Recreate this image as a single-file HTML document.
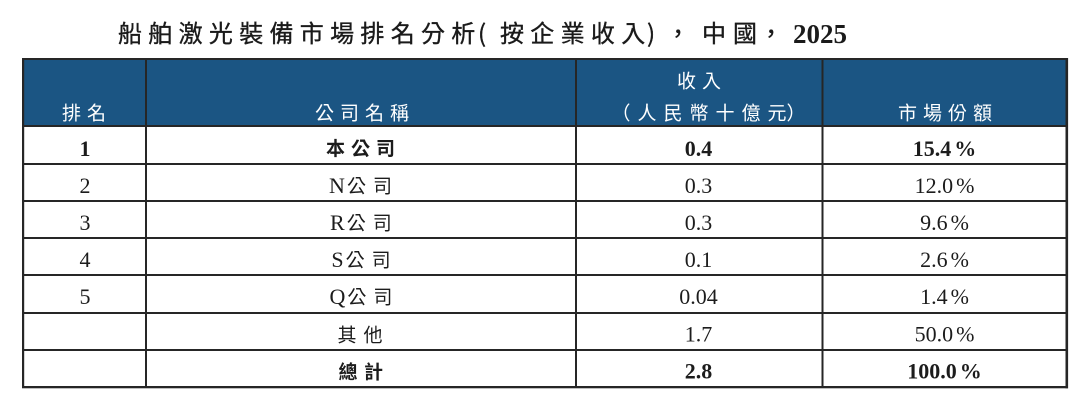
<!DOCTYPE html>
<html>
<head>
<meta charset="utf-8">
<style>
  html, body { margin: 0; padding: 0; background: #ffffff; }
  svg { display: block; }
  .cjk { font-family: "Noto Sans CJK TC", "Noto Sans CJK SC", sans-serif; }
  .lat { font-family: "Liberation Serif", serif; }
  .hd { font-family: "Noto Sans CJK TC", "Noto Sans CJK SC", sans-serif; font-size: 19px; fill: #ffffff; }
  .b { font-weight: bold; }
  .num { font-family: "Liberation Serif", serif; font-size: 22px; fill: #1c1c1c; }
  .ct { font-family: "Noto Sans CJK TC", "Noto Sans CJK SC", sans-serif; font-size: 19px; fill: #1c1c1c; }
  .tt { font-family: "Noto Sans CJK TC", "Noto Sans CJK SC", sans-serif; font-size: 24px; fill: #1a1a1a; stroke: #1a1a1a; stroke-width: 0.35px; }
</style>
</head>
<body>
<svg width="1080" height="411" viewBox="0 0 1080 411" xmlns="http://www.w3.org/2000/svg">
  <rect x="0" y="0" width="1080" height="411" fill="#ffffff"/>

  <!-- Title -->
  <text class="tt" y="42" x="118 148.3 178.6 208.9 239.2 269.5 299.8 330.1 360.4 390.7 421 451.3">船舶激光裝備市場排名分析</text>
  <text class="tt" y="42" x="478">(</text>
  <text class="tt" y="42" x="500 530.3 560.6 590.9 621.2">按企業收入</text>
  <text class="tt" y="42" x="647">)</text>
  <text class="tt" y="42" x="666">，</text>
  <text class="tt" y="42" x="702 733">中國</text>
  <text class="tt" y="42" x="759">，</text>
  <text class="lat b" font-size="27" fill="#1a1a1a" y="43" x="793">2025</text>

  <!-- Header background -->
  <rect x="24" y="60" width="1042" height="65" fill="#1b5583"/>

  <!-- Header text -->
  <text class="hd" y="119.5" x="62 87">排名</text>
  <text class="hd" y="119.5" x="315 340 365 390">公司名稱</text>
  <text class="hd" y="87.5" x="677 702">收入</text>
  <text class="hd" y="119.5" x="611.5 637.5 663.5 689.5 715.5 741.5 767.5">（人民幣十億元）</text>
  <text class="hd" y="119.5" x="898 923 948 973">市場份額</text>

  <!-- Grid lines -->
  <g fill="#262626">
    <rect x="22" y="58" width="1046" height="2"/>
    <rect x="22" y="125" width="1046" height="2"/>
    <rect x="22" y="163" width="1046" height="2"/>
    <rect x="22" y="200" width="1046" height="2"/>
    <rect x="22" y="237" width="1046" height="2"/>
    <rect x="22" y="274" width="1046" height="2"/>
    <rect x="22" y="312" width="1046" height="2"/>
    <rect x="22" y="349" width="1046" height="2"/>
    <rect x="22" y="386" width="1046" height="2.3"/>
    <rect x="22" y="58" width="2.2" height="330"/>
    <rect x="145" y="58" width="2" height="330"/>
    <rect x="575" y="58" width="2" height="330"/>
    <rect x="821.5" y="58" width="2" height="330"/>
    <rect x="1065.5" y="58" width="2.6" height="330.3"/>
  </g>

  <!-- Row 1 (bold) -->
  <text class="num b" x="85" y="156" text-anchor="middle">1</text>
  <text class="ct b" y="155" x="326 351 376">本公司</text>
  <text class="num b" x="698.5" y="156" text-anchor="middle">0.4</text>
  <text class="num b" x="944.5" y="156" text-anchor="middle">15.4<tspan dx="3">%</tspan></text>

  <!-- Row 2 -->
  <text class="num" x="85" y="193" text-anchor="middle">2</text>
  <text class="num" x="329" y="193">N</text>
  <text class="ct" y="192.5" x="347 373">公司</text>
  <text class="num" x="698.5" y="193" text-anchor="middle">0.3</text>
  <text class="num" x="944.5" y="193" text-anchor="middle">12.0<tspan dx="3">%</tspan></text>

  <!-- Row 3 -->
  <text class="num" x="85" y="230" text-anchor="middle">3</text>
  <text class="num" x="330" y="230">R</text>
  <text class="ct" y="229.5" x="346.7 372.7">公司</text>
  <text class="num" x="698.5" y="230" text-anchor="middle">0.3</text>
  <text class="num" x="944.5" y="230" text-anchor="middle">9.6<tspan dx="3">%</tspan></text>

  <!-- Row 4 -->
  <text class="num" x="85" y="267" text-anchor="middle">4</text>
  <text class="num" x="331.4" y="267">S</text>
  <text class="ct" y="266.5" x="345.6 371.6">公司</text>
  <text class="num" x="698.5" y="267" text-anchor="middle">0.1</text>
  <text class="num" x="944.5" y="267" text-anchor="middle">2.6<tspan dx="3">%</tspan></text>

  <!-- Row 5 -->
  <text class="num" x="85" y="304" text-anchor="middle">5</text>
  <text class="num" x="329.5" y="304">Q</text>
  <text class="ct" y="303.5" x="347.4 373.4">公司</text>
  <text class="num" x="698.5" y="304" text-anchor="middle">0.04</text>
  <text class="num" x="944.5" y="304" text-anchor="middle">1.4<tspan dx="3">%</tspan></text>

  <!-- Row 6 -->
  <text class="ct" y="341.5" x="337.5 363.5">其他</text>
  <text class="num" x="698.5" y="341.5" text-anchor="middle">1.7</text>
  <text class="num" x="944.5" y="341.5" text-anchor="middle">50.0<tspan dx="3">%</tspan></text>

  <!-- Row 7 (bold) -->
  <text class="ct b" y="378.5" x="338.5 364">總計</text>
  <text class="num b" x="698.5" y="378.5" text-anchor="middle">2.8</text>
  <text class="num b" x="944.5" y="378.5" text-anchor="middle">100.0<tspan dx="3">%</tspan></text>
</svg>
</body>
</html>
